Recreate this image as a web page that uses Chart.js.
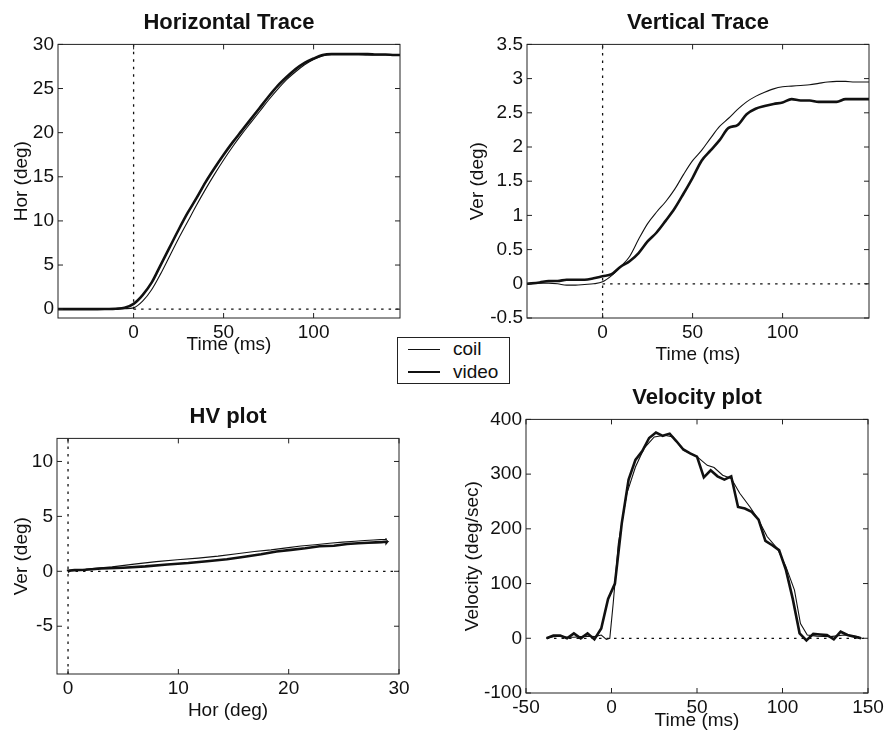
<!DOCTYPE html>
<html lang="en">
  <head>
    <meta charset="UTF-8" />
    <title>Coil vs video eye traces</title>
    <script src="https://cdn.jsdelivr.net/npm/chart.js"></script>
    <style>
      body {
        margin: 0;
        width: 886px;
        height: 741px;
        overflow: hidden;
        position: relative;
        background: #fff;
        font-family: "Liberation Sans", Arial, Helvetica, sans-serif;
      }
      canvas {
        position: absolute;
      }
      #legend {
        position: absolute;
        left: 397px;
        top: 337px;
        width: 111px;
        height: 45px;
        border: 1px solid #222;
        background: #fff;
        font-size: 19px;
        color: #111;
      }
      .row {
        position: absolute;
        left: 0;
        height: 22px;
        width: 100%;
      }
      .sample {
        position: absolute;
        left: 10px;
        width: 32px;
        background: #111;
      }
      .name {
        position: absolute;
        left: 55px;
        top: 0;
        line-height: 22px;
      }
    </style>
  </head>
  <body>
    <canvas id="horChart" width="410" height="356" style="left: 0; top: 0"></canvas>
    <canvas id="verChart" width="423" height="366" style="left: 456px; top: 0"></canvas>
    <canvas id="hvChart" width="414" height="328" style="left: 0; top: 394px"></canvas>
    <canvas id="velChart" width="437" height="357" style="left: 451px; top: 375px"></canvas>
    <div id="legend"></div>

    <script>
      const seriesNames = ["coil", "video"];

      // position traces, sampled every 5 ms
      const traceTimes = [-42, -35, -30, -25, -20, -15, -10, -5, 0, 5, 10, 15, 20, 25, 30, 35, 40, 45, 50, 55,
        60, 65, 70, 75, 80, 85, 90, 95, 100, 105, 110, 115, 120, 125, 130, 135, 140, 145, 148];
      const horCoil = [0, 0, 0, 0, 0, 0, 0.02, 0.05, 0.15, 0.9, 2.2, 4.0, 6.0, 8.0, 9.9, 11.8, 13.6, 15.3, 16.9, 18.4,
        19.8, 21.1, 22.4, 23.7, 24.9, 26.0, 26.9, 27.7, 28.3, 28.7, 28.85, 28.85, 28.85, 28.85, 28.8, 28.8, 28.8, 28.75, 28.75];
      const horVideo = [0, 0, 0, 0, 0, 0.02, 0.05, 0.15, 0.6, 1.6, 3.0, 5.0, 7.0, 9.0, 10.9, 12.6, 14.4, 16.0, 17.5, 18.9,
        20.2, 21.5, 22.8, 24.1, 25.3, 26.3, 27.2, 27.9, 28.4, 28.8, 28.9, 28.9, 28.9, 28.9, 28.9, 28.85, 28.85, 28.8, 28.8];
      const verCoil = [0, 0.01, 0.01, 0, -0.02, -0.02, -0.01, 0, 0.03, 0.12, 0.25, 0.4, 0.65, 0.88, 1.05, 1.2, 1.38, 1.6, 1.8, 1.95,
        2.13, 2.3, 2.42, 2.55, 2.66, 2.74, 2.8, 2.85, 2.88, 2.89, 2.9, 2.91, 2.93, 2.95, 2.96, 2.96, 2.95, 2.95, 2.95];
      const verVideo = [0, 0.02, 0.04, 0.04, 0.06, 0.06, 0.06, 0.08, 0.11, 0.14, 0.25, 0.33, 0.45, 0.62, 0.75, 0.92, 1.1, 1.32, 1.55, 1.8,
        1.95, 2.1, 2.28, 2.32, 2.48, 2.56, 2.6, 2.63, 2.65, 2.7, 2.68, 2.68, 2.66, 2.66, 2.66, 2.7, 2.7, 2.7, 2.7];

      // velocity (deg/sec)
      const velCoilTimes = [-38, -34, -30, -26, -22, -18, -14, -10, -6, -3, -1, 1, 4, 9, 14, 19, 25, 31, 36, 42,
        50, 56, 60, 65, 70, 75, 81, 86, 91, 97, 102, 107, 110.5, 114.5, 120, 128, 136, 144, 146];
      const velCoil = [0, 3, 4, 2, 2, 3, 4, 3, 6, -2, 0, 64, 173, 265, 313, 347, 368, 371, 368, 344,
        332, 316, 312, 298, 292, 265, 240, 216, 186, 164, 131, 88, 27, 6, 4, 3, 6, 3, 0];
      const velVideoTimes = [-38, -34, -30, -26, -22, -18, -14, -10, -6, -2, 2, 6, 10, 14, 18, 22, 26, 30, 34, 38,
        42, 46, 50, 54, 58, 62, 66, 70, 74, 78, 82, 86, 90, 94, 98, 102, 106, 110, 114, 118,
        122, 126, 130, 134, 138, 142, 146];
      const velVideo = [0, 5, 5, 0, 9, 0, 9, -2, 18, 72, 100, 210, 290, 326, 342, 366, 376, 370, 374, 360,
        345, 338, 332, 294, 307, 296, 290, 296, 240, 237, 231, 217, 178, 170, 161, 125, 72, 9, -4, 8,
        7, 6, -2, 12, 6, 3, 0];

      // axes
      const timeRange = [-42, 148];
      const horRange = [-1, 30];
      const verRange = [-0.5, 3.5];
      const hvXRange = [-1, 30];
      const hvYRange = [-9.35, 12.1];
      const velXRange = [-50, 150];
      const velYRange = [-100, 400];
      const timeTicks = [0, 50, 100];
      const horTicks = [0, 5, 10, 15, 20, 25, 30];
      const verTicks = [-0.5, 0, 0.5, 1, 1.5, 2, 2.5, 3, 3.5];
      const hvXTicks = [0, 10, 20, 30];
      const hvYTicks = [-5, 0, 5, 10];
      const velXTicks = [-50, 0, 50, 100, 150];
      const velYTicks = [-100, 0, 100, 200, 300, 400];

      const FONT = '"Liberation Sans", Arial, Helvetica, sans-serif';
      const INK = "#111";
      Chart.defaults.font.family = FONT;
      Chart.defaults.color = INK;

      const pairs = (xs, ys) => xs.map((x, i) => ({ x: x, y: ys[i] }));

      function trace(label, data, thick, smooth) {
        return {
          label: label,
          data: data,
          showLine: true,
          borderColor: INK,
          borderWidth: thick ? 2.6 : 1.1,
          pointRadius: 0,
          cubicInterpolationMode: smooth ? "monotone" : "default",
        };
      }

      function dotted(data) {
        return {
          label: "",
          data: data,
          showLine: true,
          borderColor: INK,
          borderWidth: 1.3,
          borderDash: [2.5, 5],
          pointRadius: 0,
        };
      }

      // MATLAB style box with inward ticks on all four sides
      const framePlugin = {
        id: "frame",
        afterDatasetsDraw(chart) {
          const { ctx, chartArea: a } = chart;
          const xs = chart.scales.x;
          const ys = chart.scales.y;
          ctx.save();
          ctx.strokeStyle = "#222";
          ctx.lineWidth = 1;
          ctx.strokeRect(a.left, a.top, a.right - a.left, a.bottom - a.top);
          ctx.beginPath();
          xs.ticks.forEach((t) => {
            const p = xs.getPixelForValue(t.value);
            ctx.moveTo(p, a.bottom);
            ctx.lineTo(p, a.bottom - 5);
            ctx.moveTo(p, a.top);
            ctx.lineTo(p, a.top + 5);
          });
          ys.ticks.forEach((t) => {
            const p = ys.getPixelForValue(t.value);
            ctx.moveTo(a.left, p);
            ctx.lineTo(a.left + 5, p);
            ctx.moveTo(a.right, p);
            ctx.lineTo(a.right - 5, p);
          });
          ctx.stroke();
          ctx.restore();
        },
      };

      function makeChart(id, c) {
        return new Chart(document.getElementById(id), {
          type: "scatter",
          data: { datasets: c.datasets },
          plugins: [framePlugin],
          options: {
            responsive: false,
            animation: false,
            layout: { padding: { left: 0, top: 0, right: c.padRight, bottom: 0 } },
            plugins: {
              legend: { display: false },
              tooltip: { enabled: false },
              title: {
                display: true,
                text: c.title,
                fullSize: false,
                color: INK,
                font: { size: 22, weight: "bold" },
                padding: { top: 9.5, bottom: 8.5 },
              },
            },
            scales: {
              x: {
                type: "linear",
                min: c.xRange[0],
                max: c.xRange[1],
                grid: { display: false, drawTicks: false },
                border: { display: false },
                afterBuildTicks: (s) => {
                  s.ticks = c.xTicks.map((v) => ({ value: v }));
                },
                afterFit: (s) => {
                  s.height = c.xh;
                },
                ticks: {
                  font: { size: 19 },
                  padding: 3,
                  maxRotation: 0,
                  callback: (v) => String(v),
                },
                title: {
                  display: true,
                  text: c.xTitle,
                  font: { size: 19 },
                  padding: { top: 0, bottom: 0 },
                },
              },
              y: {
                type: "linear",
                min: c.yRange[0],
                max: c.yRange[1],
                grid: { display: false, drawTicks: false },
                border: { display: false },
                afterBuildTicks: (s) => {
                  s.ticks = c.yTicks.map((v) => ({ value: v }));
                },
                afterFit: (s) => {
                  s.width = c.yw;
                },
                ticks: {
                  font: { size: 19 },
                  padding: 4,
                  callback: (v) => String(v),
                },
                title: {
                  display: true,
                  text: c.yTitle,
                  font: { size: 19 },
                  padding: { top: 10.6, bottom: 0 },
                },
              },
            },
          },
        });
      }

      makeChart("horChart", {
        title: "Horizontal Trace",
        xTitle: "Time (ms)",
        yTitle: "Hor (deg)",
        xRange: timeRange,
        yRange: horRange,
        xTicks: timeTicks,
        yTicks: horTicks,
        yw: 58,
        xh: 38,
        padRight: 10,
        datasets: [
          dotted([{ x: 0, y: 0 }, { x: 0, y: horRange[1] }]),
          dotted([{ x: 0, y: 0 }, { x: timeRange[1], y: 0 }]),
          trace(seriesNames[0], pairs(traceTimes, horCoil), false, true),
          trace(seriesNames[1], pairs(traceTimes, horVideo), true, true),
        ],
      });

      makeChart("verChart", {
        title: "Vertical Trace",
        xTitle: "Time (ms)",
        yTitle: "Ver (deg)",
        xRange: timeRange,
        yRange: verRange,
        xTicks: timeTicks,
        yTicks: verTicks,
        yw: 71,
        xh: 48,
        padRight: 10,
        datasets: [
          dotted([{ x: 0, y: verRange[0] }, { x: 0, y: verRange[1] }]),
          dotted([{ x: 0, y: 0 }, { x: timeRange[1], y: 0 }]),
          trace(seriesNames[0], pairs(traceTimes, verCoil), false, true),
          trace(seriesNames[1], pairs(traceTimes, verVideo), true, true),
        ],
      });

      makeChart("hvChart", {
        title: "HV plot",
        xTitle: "Hor (deg)",
        yTitle: "Ver (deg)",
        xRange: hvXRange,
        yRange: hvYRange,
        xTicks: hvXTicks,
        yTicks: hvYTicks,
        yw: 57,
        xh: 48,
        padRight: 15,
        datasets: [
          dotted([{ x: 0, y: hvYRange[0] }, { x: 0, y: hvYRange[1] }]),
          dotted([{ x: 0, y: 0 }, { x: hvXRange[1], y: 0 }]),
          trace(seriesNames[0], pairs(horCoil, verCoil), false, false),
          trace(seriesNames[1], pairs(horVideo, verVideo), true, false),
        ],
      });

      makeChart("velChart", {
        title: "Velocity plot",
        xTitle: "Time (ms)",
        yTitle: "Velocity (deg/sec)",
        xRange: velXRange,
        yRange: velYRange,
        xTicks: velXTicks,
        yTicks: velYTicks,
        yw: 75,
        xh: 39,
        padRight: 20,
        datasets: [
          dotted([{ x: velCoilTimes[0], y: 0 }, { x: velXRange[1], y: 0 }]),
          trace(seriesNames[0], pairs(velCoilTimes, velCoil), false, false),
          trace(seriesNames[1], pairs(velVideoTimes, velVideo), true, false),
        ],
      });

      // shared legend box between the two top panels
      const legend = document.getElementById("legend");
      const rowTops = [0, 23];
      seriesNames.forEach((name, i) => {
        const row = document.createElement("div");
        row.className = "row";
        row.style.top = rowTops[i] + "px";
        const h = i === 0 ? 1 : 2.6;
        row.innerHTML =
          '<div class="sample" style="height:' + h + "px;top:" + (11 - h / 2) + 'px"></div>' +
          '<div class="name">' + name + "</div>";
        legend.appendChild(row);
      });
    </script>
  </body>
</html>
